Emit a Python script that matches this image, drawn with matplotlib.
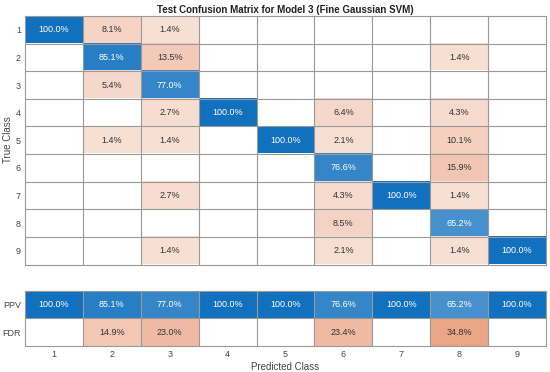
import matplotlib.pyplot as plt
import numpy as np
from matplotlib.colors import to_rgb

plt.rcParams["font.family"] = ["Liberation Sans", "DejaVu Sans"]

classes = ["1", "2", "3", "4", "5", "6", "7", "8", "9"]

# column-normalised confusion matrix (%), rows = true class, cols = predicted
conf = [
    [100.0, 8.1, 1.4, 0, 0, 0, 0, 0, 0],
    [0, 85.1, 13.5, 0, 0, 0, 0, 1.4, 0],
    [0, 5.4, 77.0, 0, 0, 0, 0, 0, 0],
    [0, 0, 2.7, 100.0, 0, 6.4, 0, 4.3, 0],
    [0, 1.4, 1.4, 0, 100.0, 2.1, 0, 10.1, 0],
    [0, 0, 0, 0, 0, 76.6, 0, 15.9, 0],
    [0, 0, 2.7, 0, 0, 4.3, 100.0, 1.4, 0],
    [0, 0, 0, 0, 0, 8.5, 0, 65.2, 0],
    [0, 0, 1.4, 0, 0, 2.1, 0, 1.4, 100.0],
]
ppv = [100.0, 85.1, 77.0, 100.0, 100.0, 76.6, 100.0, 65.2, 100.0]
fdr = [0, 14.9, 23.0, 0, 0, 23.4, 0, 34.8, 0]

BLUE = np.array(to_rgb("#0B6DBD"))
ORANGE = np.array(to_rgb("#D95319"))
WHITE = np.ones(3)
GRID = "#999999"


def cell_color(v, good):
    if v <= 0:
        return WHITE
    if good:
        t = 0.35 + 0.62 * v / 100.0
        base = BLUE
    else:
        t = 0.17 + 0.40 * min(v, 40) / 40.0
        base = ORANGE
    return WHITE * (1 - t) + base * t


def draw_block(ax, values, good_mask):
    values = np.asarray(values, dtype=float)
    nr, nc = values.shape
    img = np.zeros((nr, nc, 3))
    for i in range(nr):
        for j in range(nc):
            img[i, j] = cell_color(values[i, j], good_mask[i][j])
    ax.imshow(img, extent=(0.5, nc + 0.5, nr + 0.5, 0.5), aspect="auto",
              interpolation="nearest")
    for i in range(nr):
        for j in range(nc):
            v = values[i, j]
            if v > 0:
                ax.text(j + 1, i + 1, f"{v:.1f}%", ha="center", va="center",
                        fontsize=6.5,
                        color="white" if good_mask[i][j] else "#333333")
    ax.set_xticks(np.arange(1.5, nc), minor=True)
    ax.set_yticks(np.arange(1.5, nr), minor=True)
    ax.grid(which="minor", color=GRID, lw=0.8)
    ax.tick_params(which="both", length=0, labelsize=6.5, labelcolor="#444444",
                   pad=3)
    for s in ax.spines.values():
        s.set_color(GRID)
        s.set_linewidth(0.8)
    ax.set_xlim(0.5, nc + 0.5)
    ax.set_ylim(nr + 0.5, 0.5)


fig = plt.figure(figsize=(5.5, 3.72), dpi=100)

# ── matriz principal ──────────────────────────────
ax = fig.add_axes([25 / 550, 1 - 264.5 / 372, 521 / 550, 248.5 / 372])
n = len(classes)
diag = [[i == j for j in range(n)] for i in range(n)]
draw_block(ax, conf, diag)
ax.set_xticks(range(1, n + 1))
ax.set_xticklabels([])
ax.set_yticks(range(1, n + 1))
ax.set_yticklabels(classes)
ax.set_title("Test Confusion Matrix for Model 3 (Fine Gaussian SVM)",
             fontsize=7, fontweight="bold", color="#222222", pad=2.5)
fig.text(8 / 550, 1 - 140 / 372, "True Class", rotation=90, fontsize=7,
         color="#444444", ha="center", va="center")

# ── PPV / FDR ─────────────────────────────────────
ax2 = fig.add_axes([25 / 550, 1 - 346 / 372, 521 / 550, 55.3 / 372])
summary = [ppv, fdr]
mask = [[True] * n, [False] * n]
draw_block(ax2, summary, mask)
ax2.set_xticks(range(1, n + 1))
ax2.set_xticklabels(classes)
ax2.set_yticks([1, 2])
ax2.set_yticklabels(["PPV", "FDR"])
ax2.tick_params(axis="x", pad=3)
fig.text(285 / 550, 1 - 366.5 / 372, "Predicted Class", fontsize=7,
         color="#444444", ha="center", va="center")

fig.savefig("out.png", dpi=100)
